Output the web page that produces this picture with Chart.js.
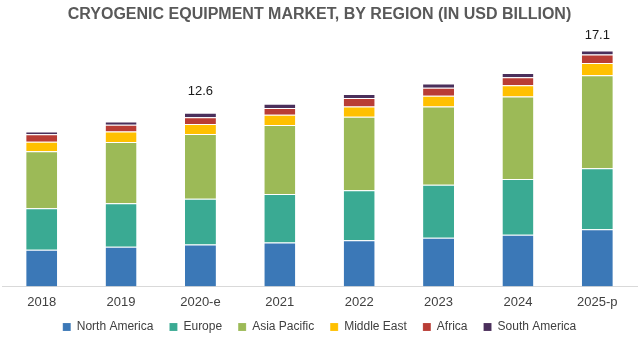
<!DOCTYPE html>
<html>
<head>
<meta charset="utf-8">
<script src="https://cdn.jsdelivr.net/npm/chart.js@4/dist/chart.umd.min.js"></script>
<style>
  html, body { margin: 0; padding: 0; background: #ffffff; }
  #wrap { position: relative; width: 644px; height: 341px; }
</style>
</head>
<body>
<div id="wrap"><canvas id="c"></canvas></div>
<script>
const years = ["2018", "2019", "2020-e", "2021", "2022", "2023", "2024", "2025-p"];
const northAmerica = [2.66, 2.88, 3.03, 3.18, 3.35, 3.53, 3.75, 4.14];
const europe       = [3.00, 3.15, 3.33, 3.52, 3.62, 3.85, 4.04, 4.42];
const asiaPacific  = [4.14, 4.44, 4.70, 5.01, 5.33, 5.67, 5.99, 6.75];
const middleEast   = [0.69, 0.77, 0.72, 0.74, 0.74, 0.77, 0.81, 0.89];
const africa       = [0.54, 0.49, 0.49, 0.49, 0.62, 0.59, 0.57, 0.61];
const southAmerica = [0.20, 0.22, 0.32, 0.30, 0.30, 0.30, 0.32, 0.30];
const totalLabels  = [null, null, "12.6", null, null, null, null, "17.1"];

const seriesNames = ["North America", "Europe", "Asia Pacific", "Middle East", "Africa", "South America"];
const seriesData = [northAmerica, europe, asiaPacific, middleEast, africa, southAmerica];
const seriesColors = ["#3B78B7", "#3AAA93", "#9CBA57", "#FFC000", "#B93D35", "#4A2F5B"];

const totalLabelPlugin = {
  id: 'totalLabels',
  afterDatasetsDraw(chart) {
    const ctx = chart.ctx;
    const yScale = chart.scales.y;
    const xScale = chart.scales.x;
    const offsets = { 2: 21, 7: 15 };
    ctx.save();
    ctx.font = '13px "Liberation Sans", Arial, sans-serif';
    ctx.fillStyle = '#1a1a1a';
    ctx.textAlign = 'center';
    ctx.textBaseline = 'middle';
    totalLabels.forEach((lab, i) => {
      if (!lab) return;
      let total = 0;
      seriesData.forEach(arr => total += arr[i]);
      const x = xScale.getPixelForValue(i);
      const y = yScale.getPixelForValue(total) - (offsets[i] || 20);
      ctx.fillText(lab, x, y);
    });
    ctx.restore();
  }
};

// Keeps the wide horizontal legend spacing but a tighter vertical block
const legendTightPlugin = {
  id: 'legendTight',
  beforeLayout(chart) {
    const lg = chart.legend;
    if (lg && !lg._tightWrapped) {
      const orig = lg.fit.bind(lg);
      lg.fit = function () { orig(); this.height -= 7; };
      lg._tightWrapped = true;
    }
  },
  afterLayout(chart) {
    const lg = chart.legend;
    if (lg) { lg.top -= 5; lg.bottom -= 5; }
  }
};

new Chart(document.getElementById('c'), {
  type: 'bar',
  data: {
    labels: years,
    datasets: seriesNames.map((name, k) => ({
      label: name,
      data: seriesData[k],
      backgroundColor: seriesColors[k],
      borderColor: 'rgba(255,255,255,0.55)',
      borderWidth: { top: 1, bottom: 0, left: 0, right: 0 },
      borderSkipped: false,
      barPercentage: 0.39,
      categoryPercentage: 1.0
    }))
  },
  options: {
    responsive: true,
    maintainAspectRatio: false,
    animation: false,
    layout: { padding: { left: 2, right: 7, top: 0, bottom: 0 } },
    plugins: {
      title: {
        display: true,
        text: 'CRYOGENIC EQUIPMENT MARKET, BY REGION (IN USD BILLION)',
        color: '#595959',
        font: { family: '"Liberation Sans", Arial, sans-serif', size: 16, weight: 'bold' },
        padding: { top: 5, bottom: 14 }
      },
      legend: {
        display: true,
        position: 'bottom',
        labels: {
          color: '#404040',
          font: { family: '"Liberation Sans", Arial, sans-serif', size: 12 },
          boxWidth: 8,
          boxHeight: 8,
          padding: 16
        }
      },
      tooltip: { enabled: false }
    },
    scales: {
      x: {
        stacked: true,
        grid: { display: false },
        border: { display: true, color: '#D9D9D9', width: 1 },
        ticks: {
          color: '#404040',
          font: { family: '"Liberation Sans", Arial, sans-serif', size: 13 },
          padding: 0,
          maxRotation: 0
        }
      },
      y: {
        stacked: true,
        display: false,
        min: 0,
        max: 18
      }
    }
  },
  plugins: [totalLabelPlugin, legendTightPlugin]
});
</script>
</body>
</html>
